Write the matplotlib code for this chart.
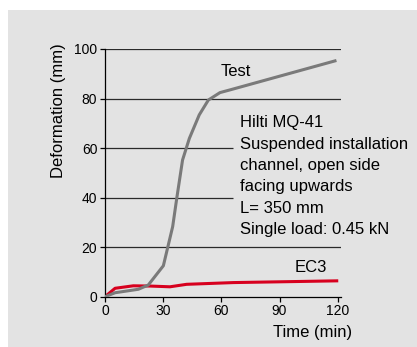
import matplotlib
matplotlib.use("Agg")
import matplotlib.pyplot as plt
from matplotlib.patches import Rectangle

plt.rcParams['font.family'] = ['Liberation Sans', 'DejaVu Sans']

# test curve (min, mm)
test_t = [0, 5.2, 17.2, 22.3, 30.1, 34.9, 37.0, 40.0, 43.5, 48.6, 53.3, 59.3, 64.5, 118.6]
test_d = [0, 1.6, 3.0, 4.7, 12.5, 28.3, 39.7, 55.2, 63.9, 73.4, 79.4, 82.4, 83.5, 95.2]

# EC3 calculation
ec3_t = [0, 5.2, 14.6, 23.2, 33.5, 42.1, 66.2, 119.5]
ec3_d = [0, 3.4, 4.4, 4.3, 4.0, 5.0, 5.7, 6.4]

grid_y = [20, 40, 60, 80, 100]
grid_end = [121.5, 66, 66, 121.5, 121.5]

xticks = [0, 30, 60, 90, 120]
yticks = [0, 20, 40, 60, 80, 100]

info = "Hilti MQ-41\nSuspended installation\nchannel, open side\nfacing upwards\nL= 350 mm\nSingle load: 0.45 kN"

fig = plt.figure(figsize=(4.17, 3.47), dpi=100)
fig.patches.append(Rectangle((8/417, 0), 1, 1 - 10/347, transform=fig.transFigure,
                             facecolor='#e3e3e3', edgecolor='none', zorder=-10))
ax = fig.add_axes([105/417, 50.3/347, 235.6/417, 247.7/347])
ax.set_facecolor('none')
ax.set_zorder(5)

ax.hlines(grid_y, 0, grid_end, color='#2a2a2a', lw=0.9, zorder=1)
ax.plot(test_t, test_d, color='#7a7a7a', lw=2.2, zorder=3)
ax.plot(ec3_t, ec3_d, color='#d7001e', lw=2.2, zorder=2)

ax.text(67.4, 91, "Test", fontsize=12, ha='center', va='center')
ax.text(106, 11.8, "EC3", fontsize=12, ha='center', va='center')
ax.text(69.6, 73.2, info, fontsize=12, ha='left', va='top', linespacing=1.53)

ax.set_xlim(0, 121.5)
ax.set_ylim(0, 100)
ax.set_xticks(xticks)
ax.set_yticks(yticks)
ax.tick_params(labelsize=10, length=3.5, width=0.9, pad=2)
for s in ['top', 'right']:
    ax.spines[s].set_visible(False)
for s in ['left', 'bottom']:
    ax.spines[s].set_linewidth(0.9)
ax.set_xlabel("Time (min)", fontsize=12, x=1.047, ha='right', labelpad=4.5)
ax.set_ylabel("Deformation (mm)", fontsize=12, y=1.025, ha='right', labelpad=6)

fig.savefig("out.png", dpi=100)
